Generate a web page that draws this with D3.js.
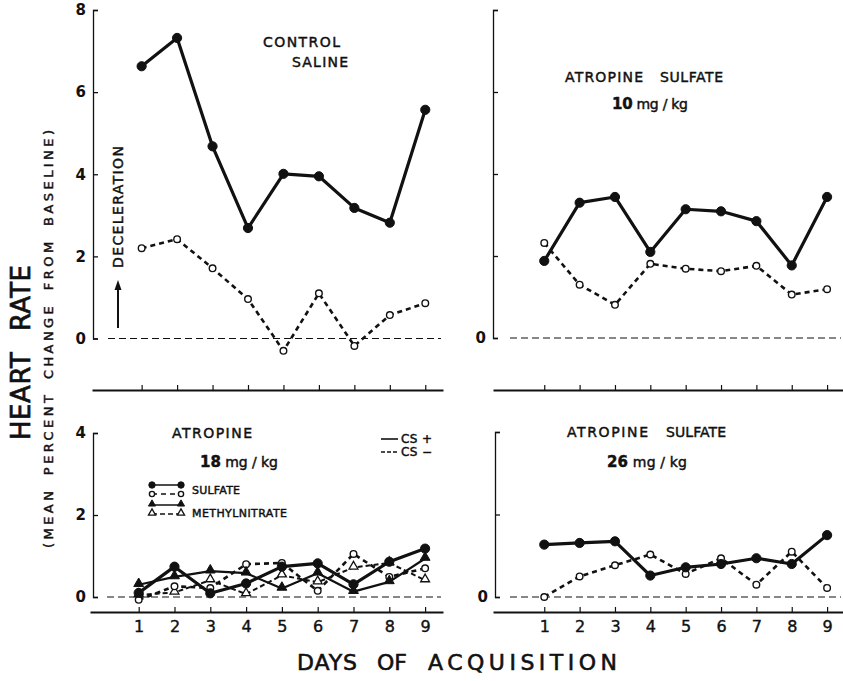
<!DOCTYPE html>
<html>
<head>
<meta charset="utf-8">
<script src="https://cdn.jsdelivr.net/npm/d3@7"></script>
<style>
  body { margin: 0; background: #fff; }
  svg text { font-family: "DejaVu Sans", sans-serif; fill: #111; }
</style>
</head>
<body>
<svg id="chart" width="843" height="681"></svg>
<script>
// values (mean percent change from baseline)
var days = [1, 2, 3, 4, 5, 6, 7, 8, 9];
var salineCSplus = [6.63, 7.32, 4.68, 2.69, 4.01, 3.95, 3.18, 2.82, 5.57];
var salineCSminus = [2.20, 2.42, 1.71, 0.96, -0.30, 1.10, -0.18, 0.57, 0.86];
var sulfate10CSplus = [1.88, 3.30, 3.44, 2.10, 3.14, 3.09, 2.85, 1.77, 3.44];
var sulfate10CSminus = [2.32, 1.30, 0.81, 1.81, 1.69, 1.63, 1.76, 1.06, 1.19];
var sulfate18CSplus = [0.10, 0.74, 0.09, 0.33, 0.74, 0.82, 0.31, 0.86, 1.18];
var sulfate18CSminus = [-0.07, 0.26, 0.22, 0.80, 0.83, 0.15, 1.05, 0.49, 0.70];
var methyl18CSplus = [0.30, 0.49, 0.63, 0.58, 0.21, 0.58, 0.13, 0.37, 0.94];
var methyl18CSminus = [0.05, 0.11, 0.41, 0.07, 0.53, 0.36, 0.72, 0.83, 0.41];
var sulfate26CSplus = [1.27, 1.31, 1.35, 0.52, 0.72, 0.80, 0.94, 0.80, 1.50];
var sulfate26CSminus = [0.00, 0.50, 0.77, 1.03, 0.56, 0.94, 0.30, 1.10, 0.22];
var topTicks = [0, 2, 4, 6, 8];
var bottomTicks = [0, 2, 4];

var ink = '#111';
var svg = d3.select('#chart');

var panels = [
  { left: 92, right: 443, dom: [-0.4, 9.5], axisX: 93, top: 10, zero: 338.5, yMax: 8, ticks: topTicks,
    labelAll: true, xAxisY: 390, dayLabels: false, baseFrom: 108,
    series: [
      {values: salineCSplus, cs: 'plus', shape: 'circle'},
      {values: salineCSminus, cs: 'minus', shape: 'circle'}
    ]},
  { left: 493, right: 843, dom: [-0.45, 9.45], axisX: 493, top: 10, zero: 338, yMax: 8, ticks: topTicks,
    labelAll: false, xAxisY: 390, dayLabels: false, baseFrom: 510,
    series: [
      {values: sulfate10CSminus, cs: 'minus', shape: 'circle'},
      {values: sulfate10CSplus, cs: 'plus', shape: 'circle'}
    ]},
  { left: 90, right: 443, dom: [-0.36, 9.5], axisX: 93, top: 433, zero: 597, yMax: 4, ticks: bottomTicks,
    labelAll: true, xAxisY: 612, dayLabels: true, baseFrom: 107,
    series: [
      {values: methyl18CSminus, cs: 'minus', shape: 'triangle'},
      {values: sulfate18CSminus, cs: 'minus', shape: 'circle'},
      {values: methyl18CSplus, cs: 'plus', shape: 'triangle'},
      {values: sulfate18CSplus, cs: 'plus', shape: 'circle'}
    ]},
  { left: 493, right: 843, dom: [-0.45, 9.45], axisX: 495, top: 432, zero: 597, yMax: 4, ticks: bottomTicks,
    labelAll: false, xAxisY: 612, dayLabels: true, baseFrom: 510,
    series: [
      {values: sulfate26CSminus, cs: 'minus', shape: 'circle'},
      {values: sulfate26CSplus, cs: 'plus', shape: 'circle'}
    ]}
];

function lineStyle(sel, s) {
  var thick = s.shape === 'circle';
  sel.attr('fill', 'none')
    .attr('stroke', ink)
    .attr('stroke-width', s.cs === 'plus' ? (thick ? 3.2 : 2.2) : (thick ? 2.6 : 2))
    .attr('stroke-dasharray', s.cs === 'plus' ? null : (thick ? '5,4' : '5,3'))
    .attr('stroke-linejoin', 'round');
}

function drawMarkers(g, pts, s) {
  var filled = s.cs === 'plus';
  if (s.shape === 'circle') {
    g.selectAll(null).data(pts).enter().append('circle')
      .attr('cx', function(d) { return d[0]; })
      .attr('cy', function(d) { return d[1]; })
      .attr('r', filled ? 4.6 : 3.3)
      .attr('fill', filled ? ink : '#fff')
      .attr('stroke', ink)
      .attr('stroke-width', filled ? 1 : 1.4);
  } else {
    g.selectAll(null).data(pts).enter().append('path')
      .attr('d', d3.symbol(d3.symbolTriangle, filled ? 42 : 34))
      .attr('transform', function(d) { return 'translate(' + d[0] + ',' + (d[1] - 1) + ')'; })
      .attr('fill', filled ? ink : '#fff')
      .attr('stroke', ink)
      .attr('stroke-width', filled ? 1 : 1.3);
  }
}

panels.forEach(function(p) {
  var x = d3.scaleLinear().domain(p.dom).range([p.left, p.right]);
  var y = d3.scaleLinear().domain([0, p.yMax]).range([p.zero, p.top]);
  var g = svg.append('g');

  // zero reference line
  g.append('line')
    .attr('x1', p.baseFrom).attr('x2', p.right - 2)
    .attr('y1', y(0)).attr('y2', y(0))
    .attr('stroke', ink).attr('stroke-width', 1.1)
    .attr('stroke-dasharray', '7,4');

  var yAxis = d3.axisLeft(y)
    .tickValues(p.ticks)
    .tickSize(-5)
    .tickPadding(7)
    .tickFormat(function(d) { return (p.labelAll || d === 0) ? d : ''; });
  var ya = g.append('g').attr('transform', 'translate(' + p.axisX + ',0)').call(yAxis);
  ya.select('.domain').attr('stroke', ink).attr('stroke-width', 1.3);
  ya.selectAll('.tick line').attr('stroke', ink).attr('stroke-width', 1.3);
  ya.selectAll('.tick text').attr('font-size', 15).attr('font-weight', 'bold')
    .attr('font-family', '"DejaVu Sans", sans-serif').attr('fill', ink);

  var xAxis = d3.axisBottom(x)
    .tickValues(days)
    .tickSizeInner(-5)
    .tickSizeOuter(0)
    .tickPadding(9)
    .tickFormat(p.dayLabels ? d3.format('d') : '');
  var xa = g.append('g').attr('transform', 'translate(0,' + p.xAxisY + ')').call(xAxis);
  xa.select('.domain').attr('stroke', ink).attr('stroke-width', 2.2);
  xa.selectAll('.tick line').attr('stroke', ink).attr('stroke-width', 1.2);
  xa.selectAll('.tick text').attr('font-size', 16)
    .attr('font-family', '"DejaVu Sans", sans-serif').attr('fill', ink)
    .attr('stroke', ink).attr('stroke-width', 0.4);

  var line = d3.line()
    .x(function(d) { return d[0]; })
    .y(function(d) { return d[1]; });

  p.series.forEach(function(s) {
    var pts = s.values.map(function(v, i) { return [x(days[i]), y(v)]; });
    var sg = g.append('g');
    sg.append('path').attr('d', line(pts)).call(lineStyle, s);
    drawMarkers(sg, pts, s);
  });
});

// text helper; a thin stroke thickens the glyphs like the printed lettering
function label(txt, x, y, size, len, weight) {
  var t = svg.append('text')
    .attr('x', x).attr('y', y)
    .attr('font-size', size)
    .attr('font-weight', weight || 'normal')
    .attr('stroke', ink).attr('stroke-width', 0.45)
    .text(txt);
  if (len) t.attr('textLength', len).attr('lengthAdjust', 'spacing');
  return t;
}

label('CONTROL', 263, 47, 14, 77);
label('SALINE', 292, 67, 14, 56);
label('ATROPINE', 565, 82, 14, 78);
label('SULFATE', 660, 82, 14, 63);
var t10 = label('', 612, 109, 14, 76);
t10.append('tspan').attr('font-weight', 'bold').attr('font-size', 15).text('10');
t10.append('tspan').text(' mg / kg');
label('ATROPINE', 172, 438, 14, 80);
var t18 = label('', 200, 467, 14, 78);
t18.append('tspan').attr('font-weight', 'bold').attr('font-size', 15).text('18');
t18.append('tspan').text(' mg / kg');
label('ATROPINE', 567, 437, 14, 81);
label('SULFATE', 666, 437, 14, 60);
var t26 = label('', 607, 467, 14, 80);
t26.append('tspan').attr('font-weight', 'bold').attr('font-size', 15).text('26');
t26.append('tspan').text(' mg / kg');

// CS legend
svg.append('line').attr('x1', 381).attr('x2', 398).attr('y1', 439).attr('y2', 439)
  .attr('stroke', ink).attr('stroke-width', 1.6);
svg.append('line').attr('x1', 381).attr('x2', 398).attr('y1', 452).attr('y2', 452)
  .attr('stroke', ink).attr('stroke-width', 1.6).attr('stroke-dasharray', '4,2');
label('CS +', 401, 443, 12, 31);
label('CS \u2212', 401, 456, 12, 31);

// drug legend
var legendRows = [
  {cs: 'plus', shape: 'circle', y: 485},
  {cs: 'minus', shape: 'circle', y: 494},
  {cs: 'plus', shape: 'triangle', y: 505},
  {cs: 'minus', shape: 'triangle', y: 514}
];
legendRows.forEach(function(r) {
  var lg = svg.append('g');
  lg.append('line').attr('x1', 152).attr('x2', 181).attr('y1', r.y).attr('y2', r.y)
    .call(lineStyle, r).attr('stroke-width', 1.5);
  drawMarkers(lg, [[152, r.y], [181, r.y]], {cs: r.cs, shape: r.shape});
  lg.selectAll('circle').attr('r', r.cs === 'plus' ? 3.2 : 2.6);
  lg.selectAll('path').attr('d', d3.symbol(d3.symbolTriangle, 22));
});
label('SULFATE', 192, 494, 11, 48);
label('METHYLNITRATE', 192, 517, 11, 95);

// deceleration arrow
svg.append('line').attr('x1', 118).attr('x2', 118).attr('y1', 328).attr('y2', 288)
  .attr('stroke', ink).attr('stroke-width', 2);
svg.append('path').attr('d', 'M118,280 L114.5,290 L121.5,290 Z').attr('fill', ink);
label('DECELERATION', 0, 0, 14, 122)
  .attr('transform', 'translate(123,268) rotate(-90)');

// axis titles
label('HEART', 0, 0, 26, 88)
  .attr('transform', 'translate(30,440) rotate(-90)').attr('stroke-width', 0.7);
label('RATE', 0, 0, 26, 66)
  .attr('transform', 'translate(30,331) rotate(-90)').attr('stroke-width', 0.7);
label('(MEAN PERCENT CHANGE FROM BASELINE)', 0, 0, 13, 418)
  .attr('transform', 'translate(53,548) rotate(-90)')
  .style('word-spacing', '5px');
label('DAYS', 297, 670, 22, 60).attr('stroke-width', 0.6);
label('OF', 377, 670, 22, 30).attr('stroke-width', 0.6);
label('ACQUISITION', 428, 670, 22, 189).attr('stroke-width', 0.6);
</script>
</body>
</html>
